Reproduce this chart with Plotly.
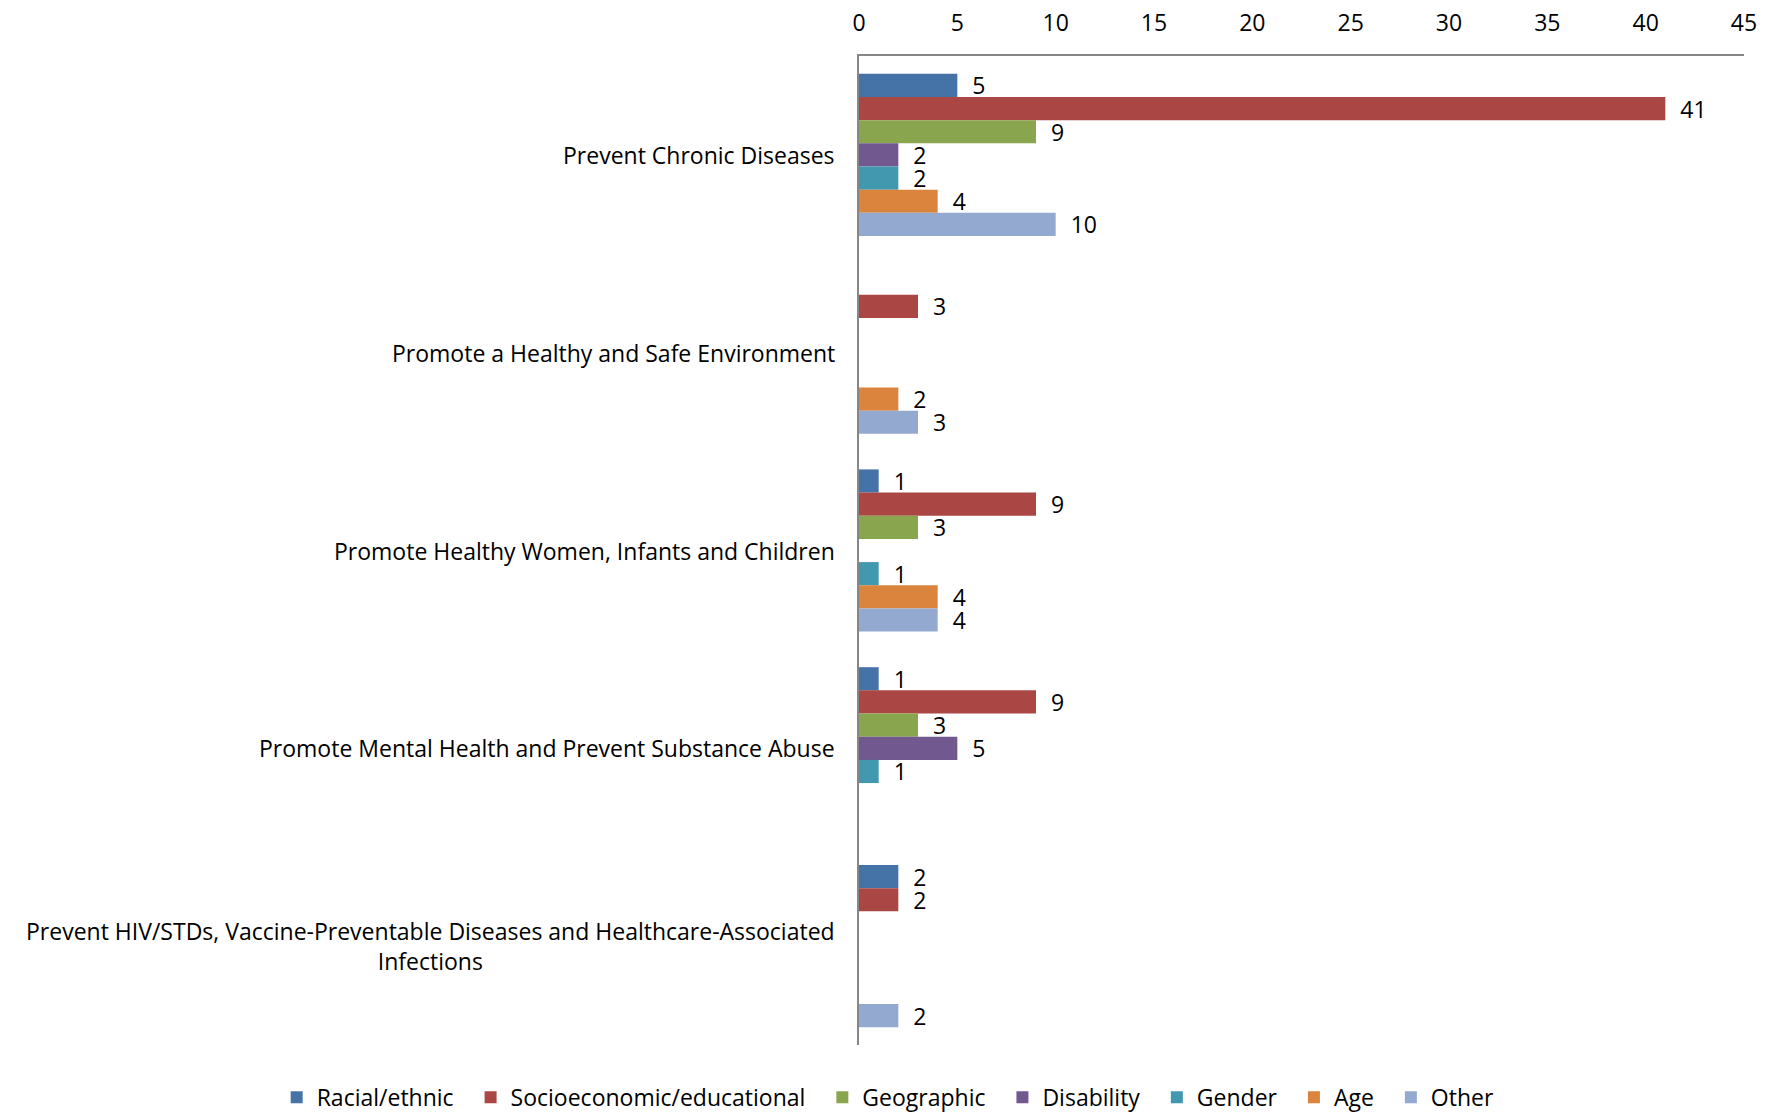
import plotly.graph_objects as go

categories = [
    "Prevent Chronic Diseases",
    "Promote a Healthy and Safe Environment",
    "Promote Healthy Women, Infants and Children",
    "Promote Mental Health and Prevent Substance Abuse",
    "Prevent HIV/STDs, Vaccine-Preventable Diseases and Healthcare-Associated<br>Infections",
]
series_names = ["Racial/ethnic", "Socioeconomic/educational", "Geographic",
                "Disability", "Gender", "Age", "Other"]
racial = [5, None, 1, 1, 2]
socio = [41, 3, 9, 9, 2]
geographic = [9, None, 3, 3, None]
disability = [2, None, None, 5, None]
gender = [2, None, 1, 1, None]
age = [4, 2, 4, None, None]
other = [10, 3, 4, None, 2]
series_values = [racial, socio, geographic, disability, gender, age, other]
colors = ["#4572A7", "#AA4643", "#89A54E", "#71588F", "#4198AF", "#DB843D", "#93A9CF"]
x_ticks = [0, 5, 10, 15, 20, 25, 30, 35, 40, 45]

FONT = "Open Sans, Noto Sans, sans-serif"
FS = 23
fig = go.Figure()
for i, (name, vals, col) in enumerate(zip(series_names, series_values, colors)):
    legend_name = name + ("\u00a0\u00a0" if i < len(series_names) - 1 else "")
    fig.add_trace(go.Bar(
        y=categories, x=vals, name=legend_name, orientation="h",
        marker=dict(color=col, line=dict(width=0)),
        text=[("\u00a0\u00a0" + str(v)) if v is not None else "" for v in vals],
        textposition="outside", cliponaxis=False, constraintext="none",
        textfont=dict(family=FONT, size=FS, color="#000000"),
    ))

for c in categories:
    fig.add_annotation(x=0, xref="paper", y=c, yref="y", text=c,
                       xanchor="right", yanchor="middle", align="center",
                       xshift=-22, showarrow=False,
                       font=dict(family=FONT, size=FS, color="#000000"))

fig.update_layout(
    width=1781, height=1114,
    margin=dict(l=851, r=45, t=48, b=77, autoexpand=False),
    paper_bgcolor="white", plot_bgcolor="white",
    barmode="group", bargap=0.18, bargroupgap=0,
    font=dict(family=FONT, size=FS, color="#000000"),
    legend=dict(orientation="h", x=-0.658, y=-0.053,
                xanchor="left", yanchor="middle",
                font=dict(family=FONT, size=FS), traceorder="normal",
                itemwidth=30),
    xaxis=dict(side="top", range=[0, 45], tickvals=x_ticks, showgrid=False,
               zeroline=False, showline=True, linecolor="#868686", linewidth=2,
               ticks="", ticklabelstandoff=14, automargin=False,
               tickfont=dict(family=FONT, size=FS)),
    yaxis=dict(autorange="reversed", showticklabels=False, showgrid=False,
               zeroline=False, showline=True, linecolor="#868686", linewidth=2,
               ticks="", automargin=False),
)
fig.write_html("out.html")
